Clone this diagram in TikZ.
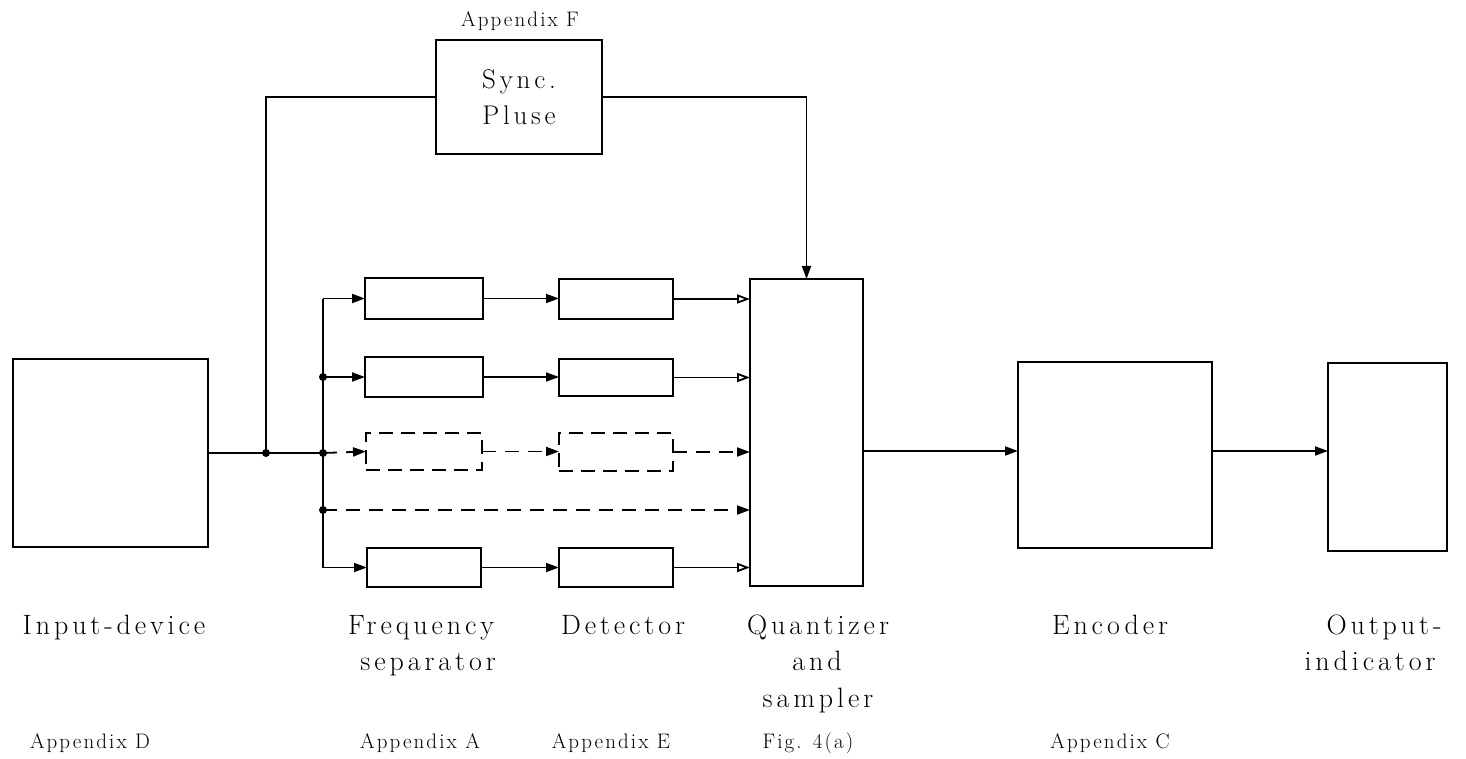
\documentclass[tikz,border=0pt]{standalone}
\usepackage{fontspec}
\usetikzlibrary{arrows.meta,calc}
\newfontfamily\spacedfont[LetterSpace=14]{Latin Modern Roman}
\newfontfamily\appfont[LetterSpace=10]{Latin Modern Roman}
\newcommand\biglbl{\spacedfont\fontsize{28}{33}\selectfont}
\newcommand\applbl{\appfont\fontsize{21}{24}\selectfont}
\tikzset{
  blk/.style={draw, line width=2.2pt, inner sep=0pt, outer sep=0pt},
  dblk/.style={blk, dash pattern=on 14pt off 8pt},
  wire/.style={line width=1.8pt},
  dwire/.style={wire, dash pattern=on 14pt off 9pt},
  arr/.style={wire, -{Triangle[length=13pt,width=9pt]}},
  darr/.style={dwire, -{Triangle[length=13pt,width=9pt]}},
  oarr/.style={wire, -{Triangle[open,length=13pt,width=9pt]}},
  dot/.style={circle, fill, inner sep=0pt, minimum size=8pt},
  lbl/.style={inner sep=0pt, font=\biglbl, anchor=base},
  app/.style={inner sep=0pt, font=\applbl, anchor=base}
}
\begin{document}
\begin{tikzpicture}[x=1pt,y=-1pt]
\useasboundingbox (0,0) rectangle (1466,759);
% main blocks
\node[blk, minimum width=195pt, minimum height=188pt] (in) at (110.5,453) {};
\node[blk, minimum width=166pt, minimum height=114pt, font=\spacedfont\fontsize{27}{36}\selectfont, align=center] (sync) at (519,97) {Sync.\\Pluse};
\node[blk, minimum width=113pt, minimum height=307pt] (q) at (806.5,432.5) {};
\node[blk, minimum width=194pt, minimum height=186pt] (enc) at (1115,455) {};
\node[blk, minimum width=119pt, minimum height=188pt] (out) at (1387.5,457) {};
% frequency separator filters
\node[blk, minimum width=118pt, minimum height=41pt] (f1) at (424,298.5) {};
\node[blk, minimum width=118pt, minimum height=40pt] (f2) at (424,377) {};
\node[dblk, minimum width=116pt, minimum height=37pt] (f3) at (424,451.5) {};
\node[blk, minimum width=114pt, minimum height=39pt] (f5) at (424,567.5) {};
% detectors
\node[blk, minimum width=114pt, minimum height=40pt] (d1) at (616,299) {};
\node[blk, minimum width=114pt, minimum height=37pt] (d2) at (616,377.5) {};
\node[dblk, minimum width=114pt, minimum height=38pt] (d3) at (616,452) {};
\node[blk, minimum width=114pt, minimum height=39pt] (d5) at (616,567.5) {};
% junctions
\coordinate (j) at (266,453);
\coordinate (b1) at (323,298.5);
\coordinate (b2) at (323,377);
\coordinate (b3) at (323,453);
\coordinate (b4) at (323,510);
\coordinate (b5) at (323,567.5);
% input line and bus
\draw[wire] (in.east |- j) -- (j) -- (b3);
\draw[wire] (b1) -- (b5);
\draw[wire] (j) |- (sync.west);
\draw[arr] (sync.east) -| (q.north);
% rows
\draw[arr] (b1) -- (f1.west);
\draw[arr] (b2) -- (f2.west);
\draw[darr] (b3) -- (f3.west);
\draw[arr] (b5) -- (f5.west);
\draw[arr] (f1.east) -- (d1.west |- f1.east);
\draw[arr] (f2.east) -- (d2.west |- f2.east);
\draw[darr] (f3.east) -- (d3.west |- f3.east);
\draw[arr] (f5.east) -- (d5.west |- f5.east);
\draw[oarr] (d1.east) -- (d1.east -| q.west);
\draw[oarr] (d2.east) -- (d2.east -| q.west);
\draw[darr] (d3.east) -- (d3.east -| q.west);
\draw[darr] (b4) -- (b4 -| q.west);
\draw[oarr] (d5.east) -- (d5.east -| q.west);
% outputs
\draw[arr] (q.east |- 0,451) -- (enc.west |- 0,451);
\draw[arr] (enc.east |- 0,451) -- (out.west |- 0,451);
% dots
\foreach \p in {j,b2,b3,b4} \node[dot] at (\p) {};
% labels
\node[lbl] (t1) at (114,634) {Input-device};
\node[lbl] (t2) at (421,634) {Frequency};
\node[lbl] (t2b) at (428,670) {separator};
\node[lbl] (t3) at (623,634) {Detector};
\node[lbl] (t4) at (818,634) {Quantizer};
\node[lbl] (t4b) at (817,670) {and};
\node[lbl] (t4c) at (818,707) {sampler};
\node[lbl] (t5) at (1110,634) {Encoder};
\node[lbl] (t6) at (1384,634) {Output-};
\node[lbl] (t6b) at (1370,670) {indicator};
\node[app] (a0) at (520,27) {Appendix F};
\node[app] (a1) at (90,748) {Appendix D};
\node[app] (a2) at (420,748) {Appendix A};
\node[app] (a3) at (611,748) {Appendix E};
\node[app] (a4) at (808,748) {Fig. 4(a)};
\node[app] (a5) at (1110,748) {Appendix C};
\end{tikzpicture}
\end{document}
